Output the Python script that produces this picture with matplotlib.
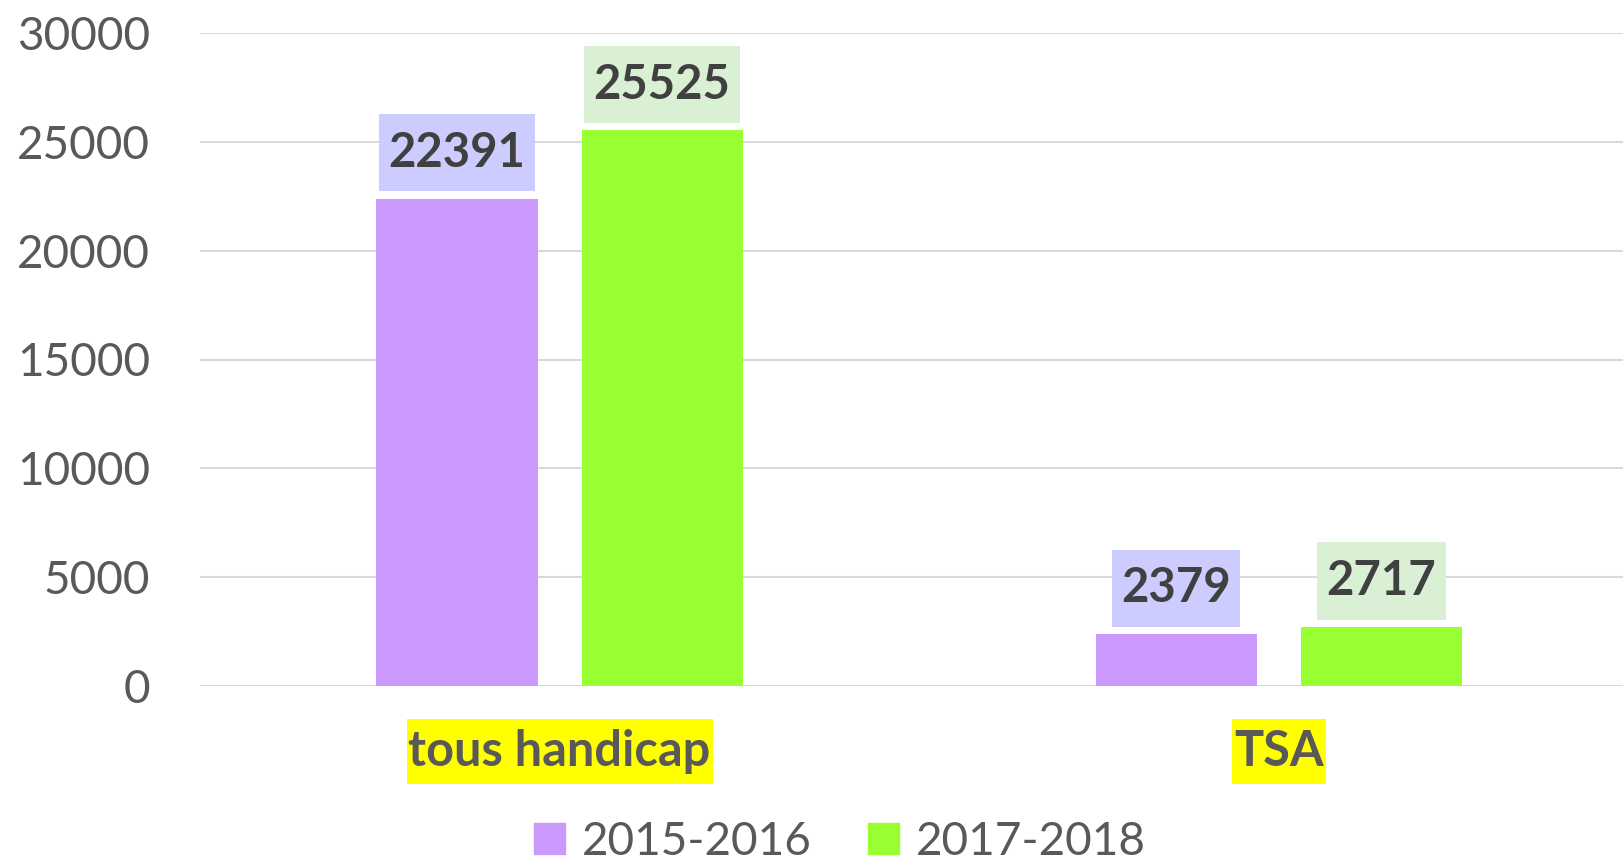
import numpy as np
import matplotlib.pyplot as plt
from matplotlib.patches import Patch
from matplotlib.path import Path

# Data
categories = ['tous handicap', 'TSA']
series = ['2015-2016', '2017-2018']
values_2015 = [22391, 2379]
values_2017 = [25525, 2717]

bar_colors = ['#CC99FF', '#99FF33']
box_colors = ['#CCCCFF', '#D9F0D4']
txt_dark = '#404040'
txt_grey = '#595959'

plt.rcParams['font.family'] = ['Lato', 'DejaVu Sans']


# rectangle box with separate horizontal / vertical padding (fractions of font size)
def make_box(px, py):
    def box(x0, y0, width, height, mutation_size):
        dx = px * mutation_size
        dy = py * mutation_size
        x0, y0 = x0 - dx, y0 - dy
        x1, y1 = x0 + width + 2 * dx, y0 + height + 2 * dy
        return Path([(x0, y0), (x1, y0), (x1, y1), (x0, y1), (x0, y0)], closed=True)
    return box


fig = plt.figure(figsize=(16.24, 8.61), dpi=100)
W, H = 1624, 861
ax = fig.add_axes([200 / W, 1 - 686 / H, 1424 / W, (686 - 33) / H])

x = np.arange(len(categories))
width = 0.224
offset = 0.1426

for i, vals in enumerate([values_2015, values_2017]):
    pos = x + (i * 2 - 1) * offset
    ax.bar(pos, vals, width=width, color=bar_colors[i], zorder=3)
    for xp, v in zip(pos, vals):
        ax.annotate(str(v), (xp, v), xytext=(0, 33), textcoords='offset points',
                    ha='center', va='center', fontsize=34, fontweight='bold',
                    color=txt_dark,
                    bbox=dict(boxstyle=make_box(0.2, 0.35), fc=box_colors[i], ec='none'))

ax.set_xlim(-0.5, 1.48)
ax.set_ylim(0, 30000)
ax.set_yticks(np.arange(0, 30001, 5000))
ax.yaxis.grid(True, color='#D9D9D9', linewidth=1.5, zorder=0)
ax.set_axisbelow(True)
for s in ax.spines.values():
    s.set_visible(False)
ax.tick_params(axis='y', length=0, pad=36, labelsize=33, labelcolor=txt_grey)
ax.tick_params(axis='x', length=0)
ax.set_xticks([])

# category labels with yellow highlight
for xc, cat in zip(x, categories):
    ax.text(xc, -0.1, cat, transform=ax.get_xaxis_transform(), ha='center', va='center',
            fontsize=35, fontweight='bold', color=txt_grey,
            bbox=dict(boxstyle=make_box(0.04, 0.2), fc='#FFFF00', ec='none'))

handles = [Patch(color=c) for c in bar_colors]
fig.legend(handles, series, loc='center', bbox_to_anchor=(840 / W, 1 - 842 / H), ncol=2,
           frameon=False, fontsize=33, labelcolor=txt_grey, handlelength=0.66,
           handleheight=0.66, handletextpad=0.37, columnspacing=1.24,
           borderpad=0, borderaxespad=0)

fig.savefig('out.png', dpi=100)
